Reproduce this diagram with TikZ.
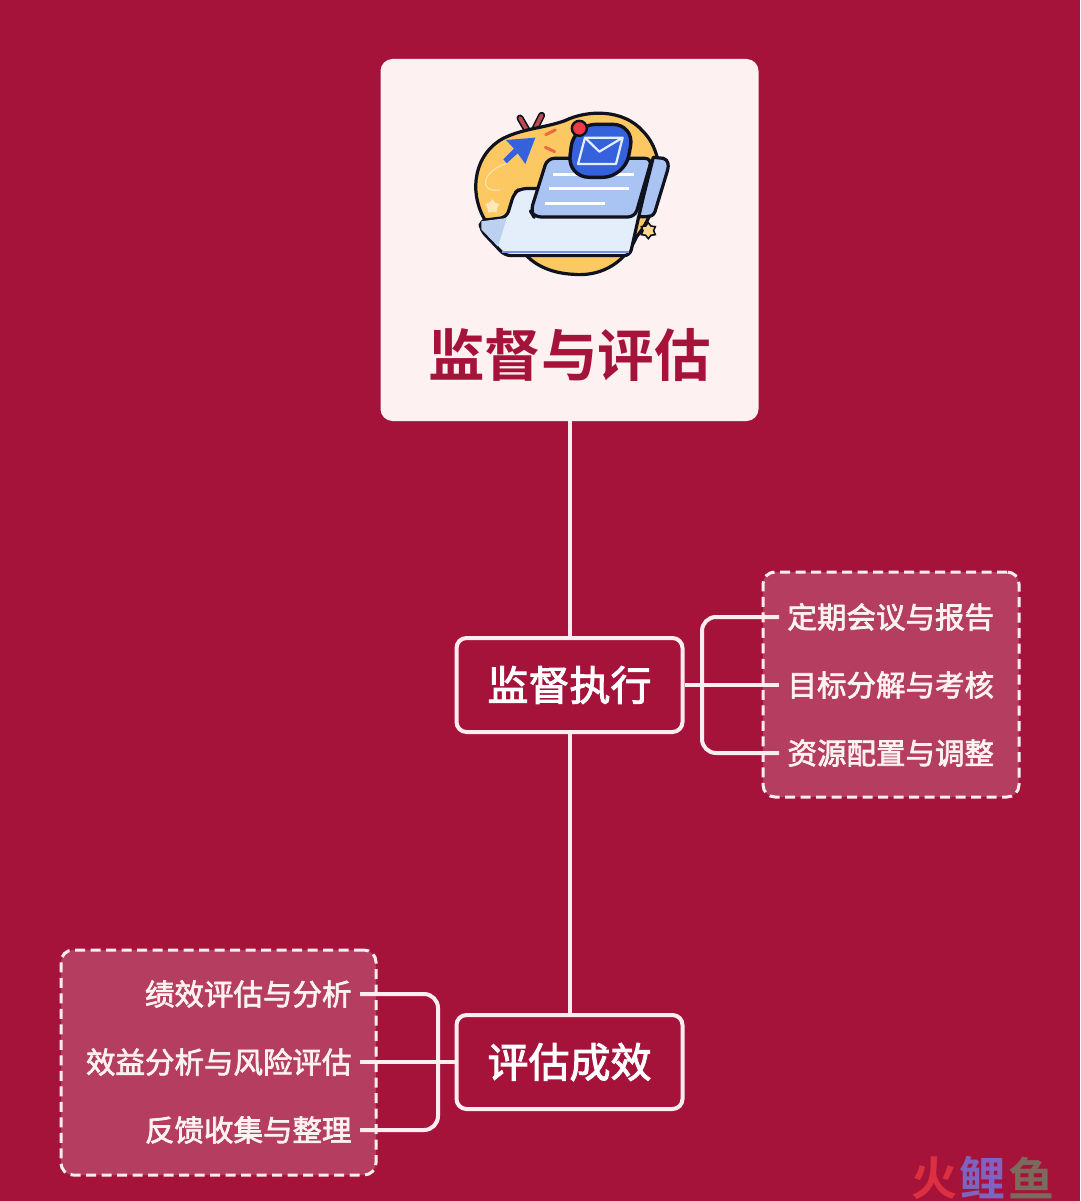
\documentclass[tikz,border=0pt]{standalone}
\usepackage{fontspec}
\setmainfont{Noto Sans CJK SC}
\newfontfamily\cjkbold{Noto Sans CJK SC Bold}
\newfontfamily\cjkmed[RawFeature={embolden=2.4}]{Noto Sans CJK SC}
\usetikzlibrary{positioning, calc, shapes.geometric}
\definecolor{fondoRojo}{HTML}{A5133B}
\definecolor{cajaRoja}{HTML}{B53D60}
\definecolor{rosaClaro}{HTML}{FDF1F2}
\definecolor{lineaRosa}{HTML}{FCEEF0}
\definecolor{amarilloIcono}{HTML}{FBC862}
\definecolor{azulIcono}{HTML}{3562DC}
\definecolor{azulPapel}{HTML}{A9C3F2}
\definecolor{azulCarpeta}{HTML}{E4EEFB}
\definecolor{azulSombra}{HTML}{BCD0F0}
\definecolor{negroIcono}{HTML}{10121E}
\definecolor{rojoPunto}{HTML}{EE3B45}
\definecolor{naranjaMarca}{HTML}{EE6A3C}
\definecolor{antena}{HTML}{BC4A50}
\definecolor{marcaRojo}{HTML}{DC2F3F}
\definecolor{marcaVioleta}{HTML}{7F63C0}
\definecolor{marcaOliva}{HTML}{7C6A5C}

\begin{document}
\begin{tikzpicture}[
  x=1pt, y=-1pt,
  rootbox/.style={rectangle, fill=rosaClaro, rounded corners=12pt,
                  minimum width=378pt, minimum height=362pt},
  titletext/.style={font=\fontsize{56.5}{60}\cjkbold, text=fondoRojo, inner sep=0pt},
  stagebox/.style={rectangle, draw=lineaRosa, line width=4pt, fill=fondoRojo,
                   rounded corners=10pt, minimum width=226pt, minimum height=94pt,
                   font=\fontsize{41}{46}\cjkmed, text=white},
  groupbox/.style={rectangle, draw=lineaRosa, line width=3pt, fill=cajaRoja,
                   rounded corners=12pt, dash pattern=on 10pt off 5.5pt},
  leaf/.style={font=\fontsize{29.5}{34}\cjkmed, text=rosaClaro, minimum height=40pt,
               inner xsep=8.5pt, inner ysep=0pt, outer sep=0pt},
  link/.style={draw=lineaRosa, line width=4pt},
  bracket/.style={link, rounded corners=14pt},
  outline/.style={draw=negroIcono, line width=3.2pt, line join=round}
]
\useasboundingbox[fill=fondoRojo] (0,0) rectangle (1080,1201);

% Cajas principales
\node[rootbox] (root) at (569.5,240) {};
\node[titletext] (title) at (569.5,355) {监督与评估};
\node[stagebox] (exec) at (569.5,685) {监督执行};
\node[stagebox] (eval) at (569.5,1062) {评估成效};

% Cajas de grupo
\node[groupbox, minimum width=256pt, minimum height=225pt] (groupA) at (891,684.5) {};
\node[groupbox, minimum width=315pt, minimum height=225pt] (groupB) at (218.5,1062.5) {};

% Hojas
\node[leaf, anchor=west] (execA) at (779,617) {定期会议与报告};
\node[leaf, below=28pt of execA] (execB) {目标分解与考核};
\node[leaf, below=28pt of execB] (execC) {资源配置与调整};
\node[leaf, anchor=east] (evalA) at (360,994) {绩效评估与分析};
\node[leaf, below=28pt of evalA.south east, anchor=north east] (evalB) {效益分析与风险评估};
\node[leaf, below=28pt of evalB.south east, anchor=north east] (evalC) {反馈收集与整理};

% Puntos de paso
\coordinate (busA) at (702,685);
\coordinate (busB) at (438,1062);

% Conectores
\draw[link] (root) -- (exec);
\draw[link] (exec) -- (eval);
\draw[link] (exec.east) -- (execB.west);
\draw[bracket] (execA.west) -| (busA) |- (execC.west);
\draw[link] (eval.west) -- (evalB.east);
\draw[bracket] (evalA.east) -| (busB) |- (evalC.east);

% Icono
\begin{scope}[shift={(440,90)}, x=0.3333pt, y=-0.3333pt]
  % antenas
  \draw[negroIcono, line width=7pt, line cap=round] (240,84) -- (262,122) (305,76) -- (284,118);
  \draw[antena, line width=3.8pt, line cap=round] (240,84) -- (262,122) (305,76) -- (284,118);
  % mancha amarilla
  \path[outline, fill=amarilloIcono] (132,385) .. controls (85,300) and (105,190) .. (190,145)
    .. controls (250,115) and (310,115) .. (375,92)
    .. controls (440,60) and (550,55) .. (610,125)
    .. controls (650,165) and (670,240) .. (650,310)
    .. controls (640,350) and (630,390) .. (590,440)
    .. controls (550,530) and (470,560) .. (400,553)
    .. controls (340,550) and (290,530) .. (258,495) -- cycle;
  % estelas
  \draw[amarilloIcono!55!white, line width=1.2pt] (200,220) .. controls (130,240) and (110,310) .. (180,300);
  \node[star, star points=5, fill=amarilloIcono!45!white, minimum size=15pt, inner sep=0pt] (starA) at (157,350) {};
  \node[star, star points=6, fill=amarilloIcono!70!white, draw=negroIcono, line width=1.6pt, minimum size=16pt, inner sep=0pt] (starB) at (625,422) {};
  % flecha
  \path[fill=azulIcono] (198,150) -- (286,143) -- (256,222) -- (233,190) -- (200,220) -- (190,208) -- (222,176) -- cycle;
  % marcas
  \draw[naranjaMarca, line width=3pt, line cap=round] (317,134) -- (346,120) (316,172) -- (344,185);
  % panel trasero
  \path[outline, fill=azulPapel] (640,202) -- (670,205) .. controls (685,210) and (687,225) .. (683,240)
    -- (645,365) .. controls (640,378) and (630,380) .. (620,380) -- (595,380) -- cycle;
  % carpeta
  \path[outline, fill=azulCarpeta, rounded corners=6pt] (120,392) -- (200,382) -- (222,310)
    -- (240,296) -- (400,294) -- (612,310) -- (570,497) -- (195,497) -- (122,420) -- cycle;
  \path[fill=azulSombra] (124,394) -- (200,384) -- (174,470) -- (124,418) -- cycle;
  \draw[azulIcono!70!white, line width=2pt] (186,486) -- (566,486);
  % papel
  \path[outline, fill=azulPapel, rounded corners=7pt] (322,205) -- (636,205) -- (585,381)
    -- (282,381) -- (272,364) -- cycle;
  \draw[white, line width=2.6pt] (338,253) -- (583,253) (328,295) -- (567,295) (315,340) -- (495,340);
  % sobre
  \path[outline, fill=azulIcono, rounded corners=22pt, line width=3.4pt] (402,103) -- (584,103)
    -- (554,262) -- (382,262) -- cycle;
  \draw[azulCarpeta, line width=2.2pt, line join=round] (435,143) -- (548,143) -- (528,222) -- (414,222) -- cycle
    (435,143) -- (478,185) -- (548,143);
  \node[circle, fill=rojoPunto, draw=negroIcono, line width=2.4pt, minimum size=15pt, inner sep=0pt] (dot) at (418,115) {};
\end{scope}

% Marca de agua
\node[font=\fontsize{46}{48}\cjkbold, text=marcaRojo, inner sep=0pt] (markA) at (934,1178) {火};
\node[font=\fontsize{46}{48}\cjkbold, text=marcaVioleta, inner sep=0pt, right=2.5pt of markA] (markB) {鲤};
\node[font=\fontsize{46}{48}\cjkbold, text=marcaOliva, inner sep=0pt, right=2.5pt of markB] (markC) {鱼};
\end{tikzpicture}
\end{document}
